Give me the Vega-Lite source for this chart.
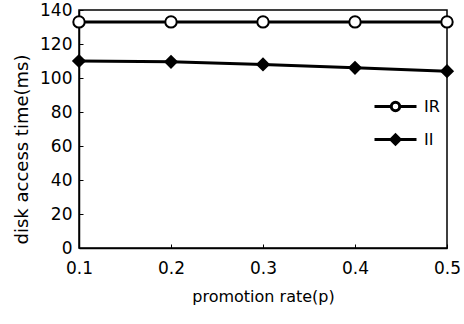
{
  "$schema": "https://vega.github.io/schema/vega-lite/v6.json",
  "width": 368,
  "height": 238,
  "autosize": {"type": "none"},
  "padding": {"left": 79, "top": 10, "right": 17, "bottom": 76},
  "background": "white",
  "config": {
    "view": {"stroke": "black", "strokeWidth": 1.5},
    "font": "DejaVu Sans",
    "axis": {
      "labelFont": "DejaVu Sans",
      "labelFontSize": 17,
      "labelColor": "black",
      "labelFlush": false,
      "titleFont": "DejaVu Sans",
      "titleFontSize": 16,
      "titleFontWeight": "normal",
      "titleColor": "black",
      "domainColor": "black",
      "domainWidth": 1.5,
      "tickColor": "black",
      "tickSize": -4,
      "tickWidth": 1,
      "grid": false
    },
    "legend": {
      "labelFont": "DejaVu Sans",
      "labelFontSize": 16,
      "labelColor": "black"
    }
  },
  "data": {
    "values": [
      {"p": 0.1, "series": "IR", "t": 133},
      {"p": 0.2, "series": "IR", "t": 133},
      {"p": 0.3, "series": "IR", "t": 133},
      {"p": 0.4, "series": "IR", "t": 133},
      {"p": 0.5, "series": "IR", "t": 133},
      {"p": 0.1, "series": "II", "t": 110},
      {"p": 0.2, "series": "II", "t": 109.5},
      {"p": 0.3, "series": "II", "t": 108},
      {"p": 0.4, "series": "II", "t": 106},
      {"p": 0.5, "series": "II", "t": 104}
    ]
  },
  "encoding": {
    "x": {
      "field": "p",
      "type": "quantitative",
      "scale": {"domain": [0.1, 0.5], "nice": false, "zero": false},
      "axis": {
        "values": [0.1, 0.2, 0.3, 0.4, 0.5],
        "format": ".1f",
        "title": "promotion rate(p)",
        "labelPadding": 16,
        "titlePadding": 12
      }
    },
    "y": {
      "field": "t",
      "type": "quantitative",
      "scale": {"domain": [0, 140], "nice": false},
      "axis": {
        "values": [0, 20, 40, 60, 80, 100, 120, 140],
        "title": "disk access time(ms)",
        "titleFontSize": 18,
        "titleY": 139,
        "labelPadding": 11,
        "titlePadding": 8
      }
    }
  },
  "layer": [
    {
      "mark": {"type": "line", "color": "black", "strokeWidth": 3},
      "encoding": {"detail": {"field": "series"}}
    },
    {
      "mark": {"type": "point", "filled": false, "opacity": 1, "stroke": "black", "strokeWidth": 2},
      "encoding": {
        "shape": {
          "field": "series",
          "type": "nominal",
          "scale": {"domain": ["IR", "II"], "range": ["circle", "diamond"]},
          "legend": null
        },
        "fill": {
          "field": "series",
          "type": "nominal",
          "scale": {"domain": ["IR", "II"], "range": ["white", "black"]},
          "legend": null
        },
        "size": {"value": 130}
      }
    },
    {
      "transform": [{"filter": "false"}],
      "mark": {"type": "point", "filled": false, "opacity": 1, "stroke": "black", "strokeWidth": 3},
      "encoding": {
        "shape": {
          "field": "series",
          "type": "nominal",
          "scale": {"domain": ["IR", "II"], "range": ["M-1,0H-0.2M0.2,0H1M-0.2,0A0.2,0.2,0,1,0,0.2,0A0.2,0.2,0,1,0,-0.2,0Z", "M-1,0H1M-0.22,0L0,-0.22L0.22,0L0,0.22Z"]},
          "legend": {
            "title": null,
            "orient": "none",
            "legendX": 294,
            "legendY": 74,
            "padding": 0,
            "symbolSize": 1764,
            "symbolStrokeWidth": 3,
            "labelOffset": 6,
            "rowPadding": -3
          }
        },
        "fill": {
          "field": "series",
          "type": "nominal",
          "scale": {"domain": ["IR", "II"], "range": ["white", "black"]},
          "legend": {
            "title": null,
            "orient": "none",
            "legendX": 294,
            "legendY": 74,
            "padding": 0,
            "symbolSize": 1764,
            "symbolStrokeWidth": 3,
            "labelOffset": 6,
            "rowPadding": -3
          }
        },
        "size": {"value": 1764}
      }
    }
  ],
  "resolve": {"scale": {"shape": "independent", "fill": "independent"}}
}
